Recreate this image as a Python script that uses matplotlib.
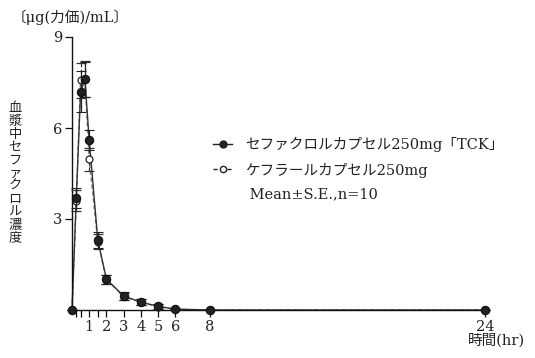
import numpy as np
import matplotlib
matplotlib.use("Agg")
import matplotlib.pyplot as plt
from matplotlib.lines import Line2D

plt.rcParams['font.family'] = ['DejaVu Serif', 'Noto Sans CJK JP']

# 時間 (hr)
t = [0, 0.25, 0.5, 0.75, 1, 1.5, 2, 3, 4, 5, 6, 8, 24]
# セファクロルカプセル250mg「TCK」
tck_mean = [0, 3.69, 7.20, 7.60, 5.60, 2.30, 1.02, 0.46, 0.26, 0.12, 0.03, 0, 0]
tck_se = [0, 0.33, 0.67, 0.59, 0.34, 0.27, 0.15, 0.12, 0.10, 0.08, 0.02, 0, 0]
# ケフラールカプセル250mg
kef_mean = [0, 3.60, 7.57, 7.62, 4.97, 2.25, 1.00, 0.45, 0.25, 0.11, 0.02, 0, 0]
kef_se = [0, 0.35, 0.57, 0.60, 0.38, 0.25, 0.15, 0.12, 0.10, 0.08, 0.02, 0, 0]

xticks_major = [1, 2, 3, 4, 5, 6, 8, 24]
xticks_minor = [0.25, 0.5, 1.5]
yticks = [3, 6, 9]

ylabel_chars = "血漿中セファクロル濃度"
unit_label = "〔μg(力価)/mL〕"
xlabel = "時間(hr)"
legend_labels = ["セファクロルカプセル250mg「TCK」", "ケフラールカプセル250mg", " Mean±S.E.,n=10"]

txt = '#222222'

fig = plt.figure(figsize=(5.35, 3.58), dpi=100)
ax = fig.add_axes([72/535, 1-310/358, 413/535, 273/358])

# ケフラール (open, dashed)
e2 = ax.errorbar(t, kef_mean, yerr=kef_se, fmt='o', color='#333333', mfc='white', mec='#222222',
                 ms=5, mew=0.9, ecolor='#333333', elinewidth=0.9, capsize=3.5, capthick=0.9,
                 clip_on=False, zorder=3)
for c in e2[2]:
    c.set_linestyle((0, (3, 2)))
ax.plot(t, kef_mean, ls=(0, (3, 2)), color='#777777', lw=1.0, clip_on=False, zorder=2)

# TCK (filled, solid)
ax.errorbar(t, tck_mean, yerr=tck_se, fmt='o', color='#222222', mfc='#222222', mec='#111111',
            ms=6, mew=0.8, ecolor='#222222', elinewidth=0.9, capsize=3.5, capthick=0.9,
            clip_on=False, zorder=4)
ax.plot(t, tck_mean, '-', color='#333333', lw=1.0, clip_on=False, zorder=2)

ax.set_xlim(0, 24)
ax.set_ylim(0, 9)
for s in ['top', 'right']:
    ax.spines[s].set_visible(False)
for s in ['left', 'bottom']:
    ax.spines[s].set_linewidth(1.0)
    ax.spines[s].set_color('#111111')

ax.set_xticks(xticks_major)
ax.set_xticklabels([str(v) for v in xticks_major])
ax.set_xticks(xticks_minor, minor=True)
ax.set_yticks(yticks)
ax.tick_params(axis='both', which='major', direction='out', length=5, width=0.9,
               labelsize=10.5, colors='#111111', labelcolor=txt, pad=2)
ax.tick_params(axis='x', which='minor', direction='out', length=5, width=0.9)

fig.text(12/535, 1-17/358, unit_label, fontsize=10.5, color=txt, va='center', ha='left')
fig.text(15/535, 1-173/358, "\n".join(ylabel_chars), fontsize=9.5, color=txt,
         va='center', ha='center', linespacing=1.0)
fig.text(468/535, 1-340/358, xlabel, fontsize=10.5, color=txt, va='center', ha='left')

handles = [
    Line2D([], [], color='#222222', ls='-', marker='o', ms=5, mfc='#222222', lw=1.0),
    Line2D([], [], color='#222222', ls=(0, (3, 2)), marker='o', ms=4.5, mfc='white', lw=1.0),
    Line2D([], [], color='none'),
]
ax.legend(handles, legend_labels, loc='upper left', bbox_to_anchor=(200/535, 1-124/358),
          bbox_transform=fig.transFigure, frameon=False, fontsize=10.5, handlelength=1.3,
          handletextpad=0.9, labelspacing=0.7, labelcolor=txt)

fig.savefig('out.png', dpi=100)
